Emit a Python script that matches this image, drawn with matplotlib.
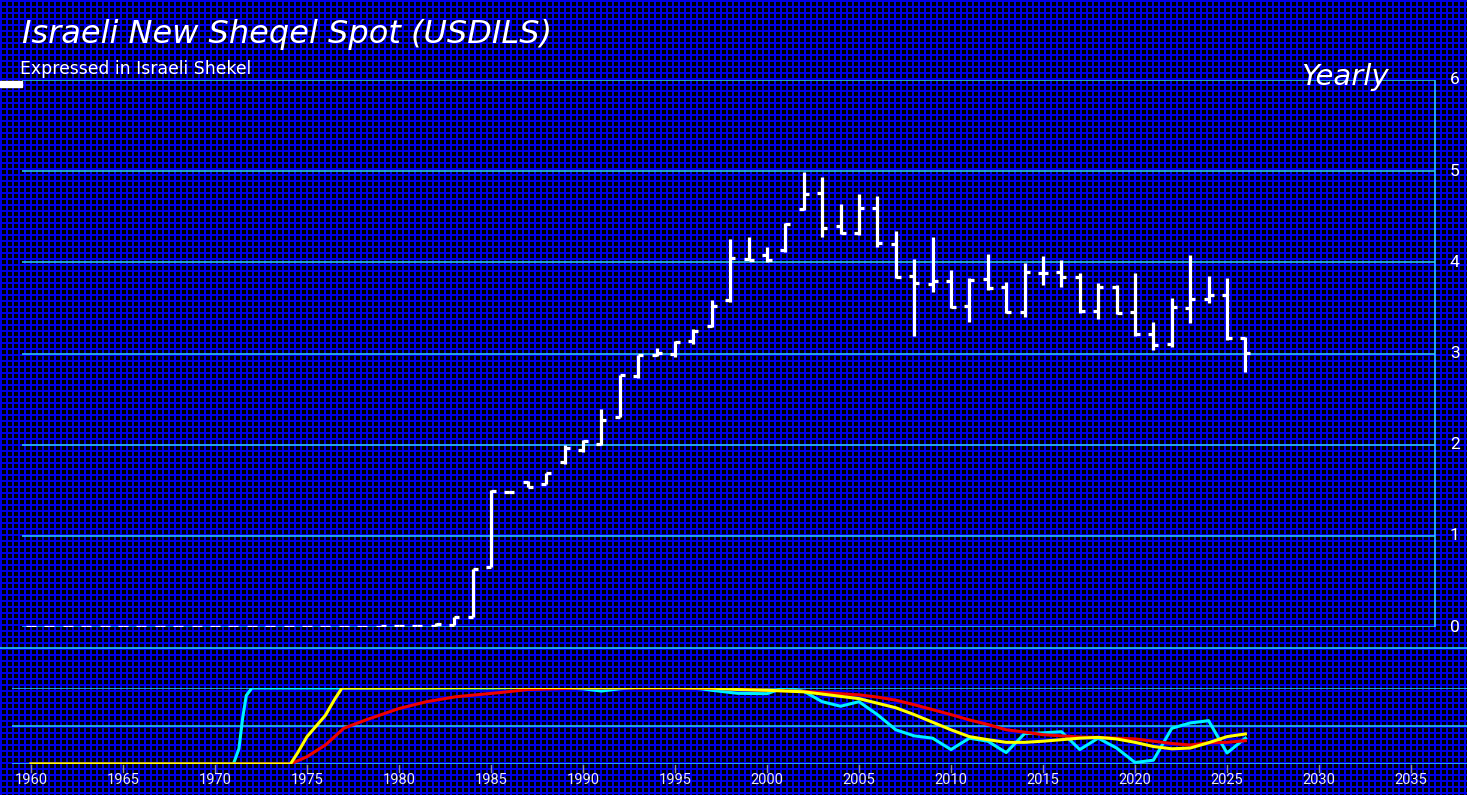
import numpy as np
import matplotlib
matplotlib.use("Agg")
import matplotlib.pyplot as plt

# yearly OHLC
years = list(range(1960, 2027))

opens = [
    0.0, 0.0, 0.0, 0.0, 0.0, 0.0, 0.0, 0.0, 0.0, 0.0,
    0.0, 0.0, 0.0, 0.0, 0.0, 0.0, 0.001, 0.002, 0.003, 0.004,
    0.006, 0.012, 0.016, 0.022, 0.113, 0.66, 1.483, 1.594, 1.568, 1.813,
    1.94, 2.007, 2.30, 2.753, 2.98, 2.995, 3.14, 3.30, 3.587, 4.04,
    4.084, 4.13, 4.585, 4.757, 4.398, 4.325, 4.60, 4.20, 3.85, 3.76,
    3.795, 3.524, 3.813, 3.726, 3.459, 3.886, 3.897, 3.843, 3.47, 3.733,
    3.455, 3.21, 3.10, 3.502, 3.60, 3.638, 3.17,
]
highs = [
    0.0, 0.0, 0.0, 0.0, 0.0, 0.0, 0.0, 0.0, 0.0, 0.0,
    0.0, 0.0, 0.0, 0.0, 0.0, 0.0, 0.002, 0.003, 0.004, 0.006,
    0.012, 0.016, 0.040, 0.106, 0.633, 1.50, 1.49, 1.60, 1.686, 1.996,
    2.05, 2.388, 2.76, 2.983, 3.057, 3.134, 3.269, 3.587, 4.252, 4.274,
    4.165, 4.428, 4.994, 4.94, 4.636, 4.746, 4.73, 4.347, 4.036, 4.274,
    3.916, 3.825, 4.09, 3.788, 3.996, 4.07, 4.025, 3.88, 3.777, 3.751,
    3.88, 3.349, 3.605, 4.08, 3.85, 3.825, 3.184,
]
lows = [
    0.0, 0.0, 0.0, 0.0, 0.0, 0.0, 0.0, 0.0, 0.0, 0.0,
    0.0, 0.0, 0.0, 0.0, 0.0, 0.0, 0.001, 0.002, 0.003, 0.004,
    0.006, 0.012, 0.016, 0.022, 0.113, 0.66, 1.475, 1.532, 1.568, 1.788,
    1.923, 1.996, 2.30, 2.728, 2.972, 2.965, 3.104, 3.294, 3.568, 4.025,
    4.007, 4.117, 4.574, 4.28, 4.31, 4.296, 4.165, 3.824, 3.195, 3.678,
    3.496, 3.349, 3.696, 3.448, 3.404, 3.751, 3.733, 3.448, 3.375, 3.433,
    3.195, 3.038, 3.075, 3.338, 3.55, 3.148, 2.80,
]
closes = [
    0.0, 0.0, 0.0, 0.0, 0.0, 0.0, 0.0, 0.0, 0.0, 0.0,
    0.0, 0.0, 0.0, 0.0, 0.0, 0.0, 0.002, 0.003, 0.004, 0.006,
    0.012, 0.016, 0.038, 0.106, 0.633, 1.495, 1.479, 1.532, 1.685, 1.96,
    2.04, 2.27, 2.76, 2.98, 3.009, 3.126, 3.25, 3.521, 4.044, 4.03,
    4.025, 4.42, 4.746, 4.38, 4.318, 4.60, 4.216, 3.843, 3.77, 3.79,
    3.513, 3.806, 3.715, 3.459, 3.897, 3.886, 3.836, 3.463, 3.733, 3.44,
    3.21, 3.09, 3.513, 3.598, 3.645, 3.166, 3.002,
]

# lower panel oscillators (0-100)
cyan_x = [1960, 1971.0, 1971.3, 1971.5, 1971.7, 1972.0, 1975, 1980, 1985, 1988,
          1990, 1991, 1992, 1993, 1995, 1996.4, 1997, 1998.4, 2000, 2001,
          2002, 2003, 2004, 2005, 2006, 2007, 2008, 2009, 2010, 2011,
          2012, 2013, 2014, 2015, 2016, 2017, 2018, 2019, 2020, 2021,
          2022, 2023, 2024, 2025, 2026]
cyan_y = [0, 0, 20, 60, 90, 100, 100, 100, 100, 101,
          99, 96, 99, 101, 101, 99, 97, 93, 92.5, 101,
          95.6, 82, 76, 82, 65, 45, 37, 34, 19, 34,
          30, 15, 40, 41, 42.5, 19, 34, 21, 2, 5,
          47, 54, 57, 14.5, 34]

yellow_x = [1960, 1974.1, 1974.5, 1975, 1975.5, 1976, 1976.5, 1976.9, 1980, 1985,
            1990, 1995, 1997, 1998.4, 2000, 2002, 2004, 2005, 2006, 2007,
            2008, 2009, 2010, 2011, 2012, 2013, 2014, 2015, 2016, 2017,
            2018, 2019, 2020, 2021, 2022, 2023, 2024, 2025, 2026]
yellow_y = [0, 0, 15, 36, 50, 64, 85, 100, 100, 101,
            100.5, 100.5, 100, 98, 97, 95, 89, 86, 80, 74,
            65, 55, 45, 36, 32, 28.5, 28.5, 30, 32, 34,
            35, 33, 28.5, 23, 20, 21, 28, 36, 39.5]

red_x = [1960, 1974.1, 1975, 1976, 1977, 1978.2, 1980, 1981.5, 1983.1, 1985.5,
         1987, 1990, 1995, 1998, 2000, 2002, 2004, 2005, 2006, 2007,
         2008, 2009, 2010, 2011, 2012, 2013, 2014, 2015, 2016, 2017,
         2018, 2019, 2020, 2021, 2022, 2023, 2024, 2025, 2026]
red_y = [0, 0, 9.6, 25, 47, 58, 73, 82, 88.5, 94,
         98, 100, 100, 99, 97, 95.6, 92.5, 91, 88, 84,
         78, 71.5, 65, 58, 52, 45, 42, 38.6, 37, 35.5,
         35, 34, 33, 30, 27, 25, 28, 28.5, 30.7]

price_ticks = [0, 1, 2, 3, 4, 5, 6]
year_ticks = list(range(1960, 2036, 5))

W, H = 1467, 795
fig = plt.figure(figsize=(W / 100, H / 100), dpi=100)

# background: black with a blue grid, 6px cells
bg = np.zeros((H, W, 3))
cols = (np.arange(W) % 6) < 2
rows = (np.arange(H) % 6) < 2
bg[:, cols] = [0.0, 0.0, 0.9]
bg[rows, :] = [0.0, 0.0, 0.9]
bax = fig.add_axes([0, 0, 1, 1])
bax.imshow(bg, aspect="auto", interpolation="nearest")
bax.axis("off")

px_per_year = 18.4
x_left = 1960 - 31 / px_per_year
x_right = x_left + W / px_per_year


def px2year(px):
    return x_left + px / px_per_year


line_col = "#2fd0f0"

# main price panel: 0 at y=627px, 6 at y=80px
ax = fig.add_axes([0, (H - 627) / H, 1, (627 - 80) / H])
ax.set_xlim(x_left, x_right)
ax.set_ylim(0, 6)
ax.axis("off")
ax.patch.set_alpha(0)

ax.hlines(price_ticks, px2year(22), px2year(1435), color=line_col, lw=1.1)
ax.vlines(px2year(1435), 0, 6, color=line_col, lw=1.1)
for t in price_ticks:
    ax.text(px2year(1450), t, str(t), color="white", fontsize=12.5,
            family="Roboto", ha="left", va="center")

tick = 0.27
ax.vlines(years, lows, highs, color="white", lw=2.3)
ax.hlines(opens, np.array(years) - tick, years, color="white", lw=2.3)
ax.hlines(closes, years, np.array(years) + tick, color="white", lw=2.3)

# oscillator panel: 0 at y=764px, 100 at y=688px
ax2 = fig.add_axes([0, (H - 764) / H, 1, 76 / H])
ax2.set_xlim(x_left, x_right)
ax2.set_ylim(0, 100)
ax2.axis("off")
ax2.patch.set_alpha(0)

ax2.hlines([0, 50, 100], px2year(12), px2year(W), color=line_col, lw=1.1)
ax2.axhline((764 - 648) / 0.76, color=line_col, lw=1.1, clip_on=False)

ax2.plot(cyan_x, cyan_y, color="#00f0ff", lw=2.2, solid_joinstyle="round")
ax2.plot(red_x, red_y, color="#ee0000", lw=2.2, solid_joinstyle="round")
ax2.plot(yellow_x, yellow_y, color="#ffff00", lw=2.2, solid_joinstyle="round")

for yr in year_ticks:
    ax2.plot([yr, yr], [-1.5, -10.5], color="#8a8a9a", lw=1, clip_on=False)
    ax2.text(yr, -21, str(yr), color="#e8e8f0", fontsize=10.5, family="Roboto",
             ha="center", va="center", clip_on=False)

# titles
fig.text(22 / W, 1 - 43 / H, "Israeli New Sheqel Spot (USDILS)", color="white",
         fontsize=23, family="DejaVu Sans", style="italic", ha="left", va="baseline")
fig.text(20 / W, 1 - 74 / H, "Expressed in Israeli Shekel", color="white",
         fontsize=12.4, family="DejaVu Sans", ha="left", va="baseline")
fig.text(1389 / W, 1 - 85 / H, "Yearly", color="white",
         fontsize=21, family="DejaVu Sans", style="italic", ha="right", va="baseline")

# small white marker at top-left
fig.add_artist(plt.Rectangle((0, 1 - 87 / H), 22 / W, 6 / H,
                             transform=fig.transFigure, color="white"))

fig.savefig("out.png", dpi=100)
